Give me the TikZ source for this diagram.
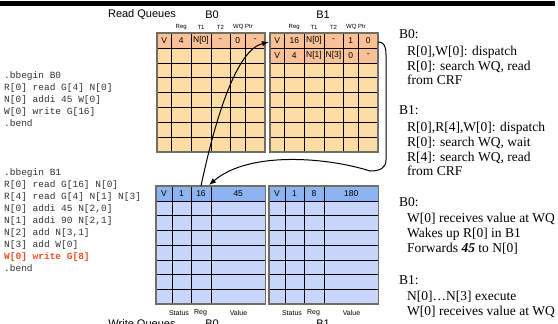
\documentclass[tikz,border=0pt]{standalone}
\usepackage{fontspec}
\setmainfont{Liberation Serif}
\setsansfont{Liberation Sans}
\setmonofont{Liberation Mono}
\usetikzlibrary{arrows.meta}
\definecolor{rqhead}  {RGB}{250,192,150}
\definecolor{rqbody}  {RGB}{253,221,165}
\definecolor{wqhead}  {RGB}{141,180,240}
\definecolor{wqbody}  {RGB}{199,214,250}
\definecolor{codered} {RGB}{240, 80, 30}
\definecolor{frameclr}{RGB}{115,110,100}
\tikzset{
  cell/.style={font=\sffamily\fontsize{8.5}{10}\selectfont, inner sep=0pt},
  colhead/.style={font=\sffamily\fontsize{6}{7}\selectfont, inner sep=0pt},
  title/.style={font=\sffamily\fontsize{11}{13}\selectfont, inner sep=0pt},
  codeline/.style={font=\ttfamily\fontsize{9.5}{12}\selectfont, anchor=base west, inner sep=0pt, black!80},
  note/.style={font=\rmfamily\fontsize{13.5}{15}\selectfont, anchor=base west, inner sep=0pt},
  flow/.style={-{Latex[length=7pt,width=5.5pt]}, line width=1pt},
}

\begin{document}
\begin{tikzpicture}[x=1pt, y=-1pt]
  \useasboundingbox (0,0) rectangle (558,324);
  % top bar
  \fill[black] (0,1) rectangle (555,6);
  % titles
  \node[title] (rqtitle) at (142,15) {Read Queues};
  \node[title] (rqbzero) at (212,15) {B0};
  \node[title] (rqbone)  at (323,15) {B1};
  \node[title, anchor=base] (wqtitle) at (142,327) {Write Queues};
  \node[title, anchor=base] (wqbzero) at (212,327) {B0};
  \node[title, anchor=base] (wqbone)  at (323,327) {B1};
  % read queues
  \foreach \qx/\nhead [count=\q] in {157/1, 270/2} {
    \fill[rqbody] (\qx,33) rectangle ++(108,119);
    \fill[rqhead] (\qx,33) rectangle ++(108,{14.875*\nhead});
    \foreach \cx in {14.5,34,54,73,88.5} \draw (\qx+\cx,33) -- ++(0,119);
    \foreach \r in {1,...,7} \draw (\qx,{33+14.875*\r}) -- ++(108,0);
    \draw[frameclr, line width=1.2pt] (\qx,33) rectangle ++(108,119);
    \foreach \cx/\t [count=\i] in {24.25/Reg, 44/T1, 63.5/T2, 86/WQ Ptr}
      \node[colhead] (rqh\q\i) at (\qx+\cx,27) {\t};
  }
  \foreach \cx/\t [count=\i] in {7.25/V, 24.25/4, 44/N[0], 63.5/-, 80.75/0, 98.25/-}
    \node[cell] (rqa\i) at (157+\cx,40.4) {\t};
  \foreach \cx/\t [count=\i] in {7.25/V, 24.25/16, 44/N[0], 63.5/-, 80.75/1, 98.25/0}
    \node[cell] (rqb\i) at (270+\cx,40.4) {\t};
  \foreach \cx/\t [count=\i] in {7.25/V, 24.25/4, 44/N[1], 63.5/N[3], 80.75/0, 98.25/-}
    \node[cell] (rqc\i) at (270+\cx,55.3) {\t};
  % write queues
  \foreach \qx [count=\q] in {156, 269} {
    \fill[wqbody] (\qx,186) rectangle ++(109.5,118);
    \fill[wqhead] (\qx,186) rectangle ++(109.5,14.75);
    \foreach \cx in {16,35,55} \draw (\qx+\cx,186) -- ++(0,118);
    \foreach \r in {1,...,7} \draw (\qx,{186+14.75*\r}) -- ++(109.5,0);
    \draw[frameclr, line width=1.2pt] (\qx,186) rectangle ++(109.5,118);
    \foreach \cx/\t [count=\i] in {23/Status, 44.5/Reg, 82.5/Value}
      \node[colhead, font=\sffamily\fontsize{7}{8}\selectfont] (wqf\q\i) at (\qx+\cx,313) {\t};
  }
  \foreach \cx/\t [count=\i] in {8/V, 25.5/1, 45/16, 82.25/45}
    \node[cell] (wqa\i) at (156+\cx,193.4) {\t};
  \foreach \cx/\t [count=\i] in {8/V, 25.5/1, 45/8, 82.25/180}
    \node[cell] (wqb\i) at (269+\cx,193.4) {\t};
  % code blocks
  \foreach \t [count=\i] in {.bbegin B0, R[0] read G[4] N[0], N[0] addi 45 W[0],
                             W[0] write G[16], .bend}
    \node[codeline] (cza\i) at (4,{66.5+12*\i}) {\t};
  \foreach \t [count=\i] in {.bbegin B1, R[0] read G[16] N[0], R[4] read G[4] N[1] N[3],
                             N[0] addi 45 N[2{,}0], N[1] addi 90 N[2{,}1], N[2] add N[3{,}1],
                             N[3] add W[0], {\color{codered}\bfseries W[0] write G[8]}, .bend}
    \node[codeline] (cob\i) at (4,{163.5+12*\i}) {\t};
  % notes
  \node[note] (nza) at (399,38.5) {B0:};
  \node[note] (nzb) at (407,55.5) {R[0],W[0]: dispatch};
  \node[note] (nzc) at (407,70.5) {R[0]: search WQ, read};
  \node[note] (nzd) at (407,84.5) {from CRF};
  \node[note] (noa) at (399,114.5) {B1:};
  \node[note] (nob) at (407,131.5) {R[0],R[4],W[0]: dispatch};
  \node[note] (noc) at (407,146.5) {R[0]: search WQ, wait};
  \node[note] (nod) at (407,161.5) {R[4]: search WQ, read};
  \node[note] (noe) at (407,175.5) {from CRF};
  \node[note] (nwa) at (399,206.5) {B0:};
  \node[note] (nwb) at (407,222.5) {W[0] receives value at WQ};
  \node[note] (nwc) at (407,237.5) {Wakes up R[0] in B1};
  \node[note] (nwd) at (407,252.5) {Forwards \textbf{\textit{45}} to N[0]};
  \node[note] (nxa) at (399,284.5) {B1:};
  \node[note] (nxb) at (407,300.5) {N[0]\ldots N[3] execute};
  \node[note] (nxc) at (407,315.5) {W[0] receives value at WQ};
  % connectors
  \coordinate (wqzout) at (201,186);
  \coordinate (rqoin)  at (269,42);
  \coordinate (rqoout) at (378,42);
  \coordinate (wqzin)  at (209,185);
  \draw[flow] (wqzout) .. controls +(14,-66) and +(-33,8) .. (rqoin);
  \draw[flow] (rqoout) .. controls (387,42) and (386,52) .. (386,62) -- (386,160)
    .. controls (386,168) and (380,171) .. (370,171)
    .. controls (330,158) and (250,150) .. (wqzin);
\end{tikzpicture}
\end{document}
